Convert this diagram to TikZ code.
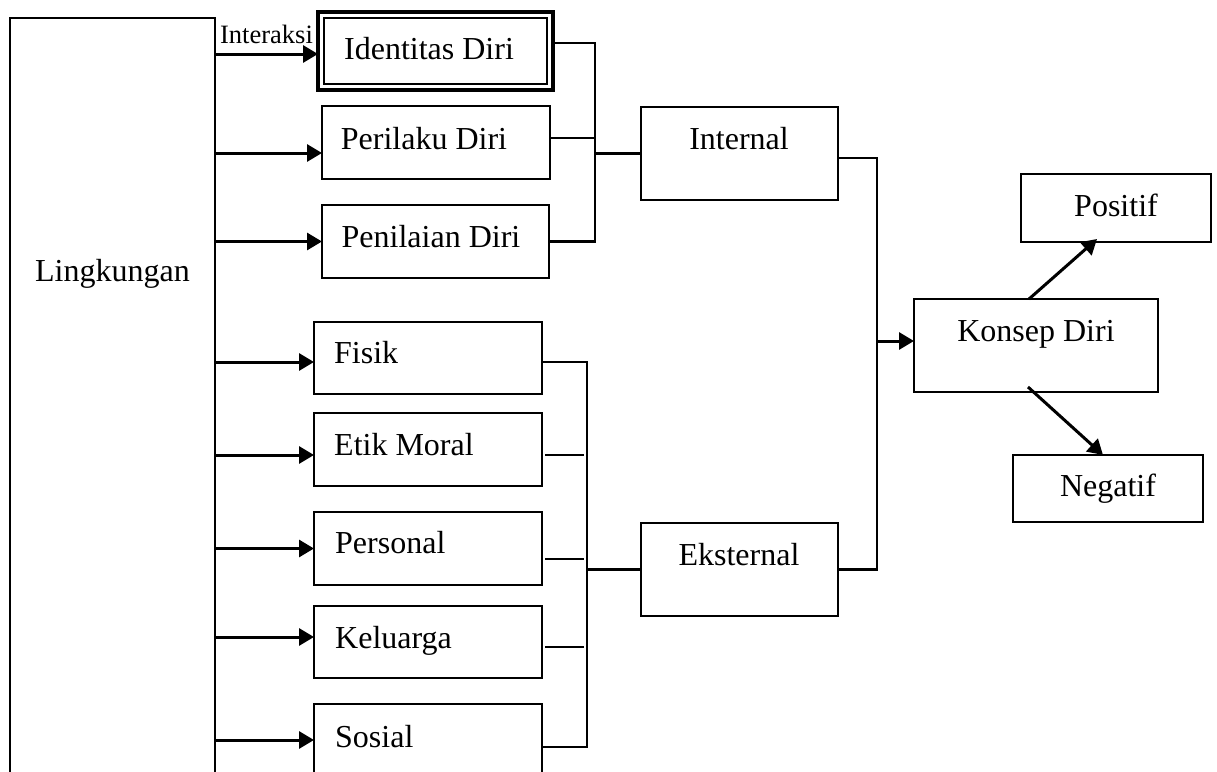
\documentclass[tikz,border=0pt]{standalone}
\usepackage{fontspec}
\setmainfont{Liberation Serif}
\usetikzlibrary{arrows.meta,calc}
\begin{document}
\begin{tikzpicture}[x=1pt,y=-1pt,
  box/.style={draw,line width=2.1pt,inner sep=0pt,outer sep=0pt},
  txt/.style={font=\fontsize{32}{36}\selectfont,inner sep=0pt,anchor=base},
  ltxt/.style={font=\fontsize{32}{36}\selectfont,inner sep=0pt,anchor=base west},
  small/.style={font=\fontsize{26.5}{30}\selectfont,inner sep=0pt,anchor=base},
  conn/.style={line width=2.1pt},
  arr/.style={line width=3pt,-{Triangle[length=15pt,width=17pt]}}]
\useasboundingbox (0,0) rectangle (1217,771);
\clip (0,0) rectangle (1217,771);

% boxes
\node[box,minimum width=205pt,minimum height=782pt] (lingk) at (112.5,409) {};
\node[draw,line width=3.2pt,inner sep=0pt,outer sep=0pt,minimum width=235pt,minimum height=78pt] (ident) at (435.5,51) {};
\draw[line width=2.4pt] ($(ident.north west)+(6,6)$) rectangle ($(ident.south east)+(-6,-6)$);
\node[box,minimum width=228pt,minimum height=73pt] (perilaku) at (436,142.5) {};
\node[box,minimum width=227pt,minimum height=73pt] (penilaian) at (435.5,241.5) {};
\node[box,minimum width=197pt,minimum height=93pt] (internal) at (739.5,153.5) {};
\node[box,minimum width=228pt,minimum height=72pt] (fisik) at (428,358) {};
\node[box,minimum width=228pt,minimum height=73pt] (etik) at (428,449.5) {};
\node[box,minimum width=228pt,minimum height=73pt] (personal) at (428,548.5) {};
\node[box,minimum width=228pt,minimum height=72pt] (keluarga) at (428,642) {};
\node[box,minimum width=228pt,minimum height=72pt] (sosial) at (428,740) {};
\node[box,minimum width=197pt,minimum height=93pt] (eksternal) at (739.5,569.5) {};
\node[box,minimum width=244pt,minimum height=93pt] (konsep) at (1036,345.5) {};
\node[box,minimum width=190pt,minimum height=68pt] (positif) at (1116,208) {};
\node[box,minimum width=190pt,minimum height=67pt] (negatif) at (1108,488.5) {};

% texts
\node[txt] (tlingk) at (112.5,281) {Lingkungan};
\node[small] (tinter) at (266.5,43) {Interaksi};
\node[txt] (tident) at (429,59) {Identitas Diri};
\node[txt] (tperil) at (424,149) {Perilaku Diri};
\node[txt] (tpenil) at (431,247) {Penilaian Diri};
\node[txt] (tint) at (739,149) {Internal};
\node[ltxt] (tfis) at (334,363) {Fisik};
\node[ltxt] (tetik) at (334,455) {Etik Moral};
\node[ltxt] (tpers) at (335,553) {Personal};
\node[ltxt] (tkel) at (335,648) {Keluarga};
\node[ltxt] (tsos) at (335,747) {Sosial};
\node[txt] (teks) at (739,565) {Eksternal};
\node[txt] (tkon) at (1036,341) {Konsep Diri};
\node[txt] (tpos) at (1116,216) {Positif};
\node[txt] (tneg) at (1108,496) {Negatif};

% arrows from Lingkungan
\draw[arr] ($(lingk.east |- ident.west)+(0,3)$) -- ($(ident.west)+(0,3)$);
\draw[arr] ($(lingk.east |- perilaku.west)+(0,10.5)$) -- ($(perilaku.west)+(0,10.5)$);
\draw[arr] (lingk.east |- penilaian.west) -- (penilaian.west);
\draw[arr] ($(lingk.east |- fisik.west)+(0,4)$) -- ($(fisik.west)+(0,4)$);
\draw[arr] ($(lingk.east |- etik.west)+(0,5.5)$) -- ($(etik.west)+(0,5.5)$);
\draw[arr] (lingk.east |- personal.west) -- (personal.west);
\draw[arr] ($(lingk.east |- keluarga.west)+(0,-5)$) -- ($(keluarga.west)+(0,-5)$);
\draw[arr] (lingk.east |- sosial.west) -- (sosial.west);

% internal bus
\coordinate (busI) at (595,0);
\draw[conn] ($(ident.east)+(0,-8)$) -| (busI |- penilaian.east) -- (penilaian.east);
\draw[conn] ($(perilaku.east)+(0,-4.5)$) -- ($(busI |- perilaku.east)+(0,-4.5)$);
\draw[conn] (busI |- internal.west) -- (internal.west);

% external bus
\coordinate (busE) at (587,0);
\draw[conn] ($(fisik.east)+(0,4)$) -| ($(busE |- sosial.east)+(0,7)$) -- ($(sosial.east)+(0,7)$);
\draw[conn] ($(etik.east)+(3,5.5)$) -- ++(39,0);
\draw[conn] ($(personal.east)+(3,10.5)$) -- ++(39,0);
\draw[conn] ($(keluarga.east)+(3,5)$) -- ++(39,0);
\draw[conn] (busE |- eksternal.west) -- (eksternal.west);

% right bus
\coordinate (busR) at (877,0);
\draw[conn] ($(internal.east)+(0,4.5)$) -| (busR |- eksternal.east) -- (eksternal.east);
\draw[arr] ($(busR |- konsep.west)+(0,-4.5)$) -- ($(konsep.west)+(0,-4.5)$);

% outputs
\draw[arr] ($(konsep.north)+(-7,0)$) -- ($(positif.south)+(-19,-3)$);
\draw[arr] ($(konsep.south)+(-8,-5)$) -- ($(negatif.north)+(-5,0)$);
\end{tikzpicture}
\end{document}
